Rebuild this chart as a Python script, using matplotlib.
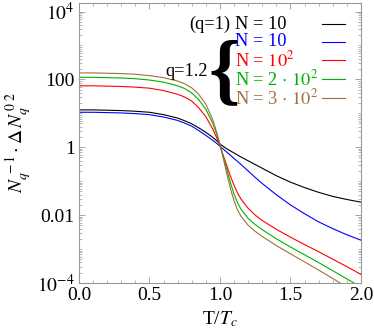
import numpy as np
import matplotlib
matplotlib.use("Agg")
import matplotlib.pyplot as plt
from matplotlib.ticker import FixedLocator, NullFormatter

plt.rcParams['font.family'] = ['Liberation Serif', 'DejaVu Serif']
plt.rcParams['mathtext.fontset'] = 'stix'

# T / Tc sample points
t = [0.0, 0.1, 0.2, 0.3, 0.4, 0.5, 0.6, 0.7, 0.75, 0.8, 0.85, 0.9, 0.95, 0.975, 1.0,
     1.025, 1.05, 1.075, 1.1, 1.125, 1.15, 1.2, 1.25, 1.3, 1.4, 1.5, 1.6, 1.7, 1.8, 1.9, 2.0]

# log10 of the plotted quantity
log_q1_n10 = [1.10, 1.10, 1.09, 1.08, 1.06, 1.03, 0.96, 0.86, 0.78, 0.69, 0.57, 0.44, 0.29, 0.2, 0.1,
              0.02, -0.05, -0.11, -0.17, -0.23, -0.29, -0.4, -0.51, -0.62, -0.84, -1.03, -1.19, -1.33,
              -1.45, -1.54, -1.62]
log_n10 = [1.03, 1.03, 1.02, 1.01, 0.99, 0.96, 0.89, 0.79, 0.71, 0.62, 0.49, 0.35, 0.2, 0.12, 0.03,
           -0.06, -0.15, -0.24, -0.33, -0.42, -0.51, -0.7, -0.89, -1.07, -1.4, -1.7, -1.96, -2.2,
           -2.4, -2.58, -2.74]
log_n100 = [1.81, 1.81, 1.8, 1.79, 1.77, 1.74, 1.67, 1.56, 1.48, 1.36, 1.16, 0.9, 0.53, 0.3, 0.05,
            -0.26, -0.56, -0.86, -1.12, -1.35, -1.53, -1.8, -2.0, -2.16, -2.42, -2.65, -2.87, -3.08,
            -3.3, -3.52, -3.75]
log_n200 = [2.06, 2.06, 2.05, 2.04, 2.02, 1.98, 1.92, 1.81, 1.73, 1.6, 1.4, 1.12, 0.7, 0.41, 0.08,
            -0.3, -0.68, -1.05, -1.38, -1.64, -1.83, -2.1, -2.28, -2.43, -2.7, -2.94, -3.17, -3.4,
            -3.64, -3.88, -4.12]
log_n300 = [2.19, 2.19, 2.18, 2.17, 2.15, 2.11, 2.05, 1.95, 1.87, 1.75, 1.56, 1.27, 0.8, 0.47, 0.1,
            -0.35, -0.8, -1.22, -1.58, -1.85, -2.04, -2.3, -2.48, -2.63, -2.9, -3.14, -3.38, -3.62,
            -3.87, -4.12, -4.38]

series = [log_q1_n10, log_n10, log_n100, log_n200, log_n300]
labels = [r'N = 10', r'N = 10', r'N = $10^2$', r'N = 2 $\cdot$ $10^2$', r'N = 3 $\cdot$ $10^2$']
colors = ['black', '#0000ff', '#ff0000', '#00b000', '#a0703c']

fig = plt.figure(figsize=(3.74, 3.36), dpi=100)
ax = fig.add_axes([0.211, 0.158, 0.754, 0.833])

for vals, c in zip(series, colors):
    ax.plot(t, 10 ** np.array(vals), color=c, lw=0.8)

ax.set_yscale('log')
ax.set_xlim(0, 2)
ax.set_ylim(1e-4, 10 ** 4.25)

ax.yaxis.set_major_locator(FixedLocator([1e-4, 1e-2, 1, 1e2, 1e4]))
ax.set_yticklabels([r'$10^{-4}$', '0.01', '1', '100', r'$10^{4}$'])
minors = [m * 10.0 ** e for e in range(-4, 5) for m in range(2, 10)] + [10.0 ** e for e in (-3, -1, 1, 3)]
ax.yaxis.set_minor_locator(FixedLocator(minors))
ax.yaxis.set_minor_formatter(NullFormatter())
ax.set_xticks([0, 0.5, 1, 1.5, 2])
ax.set_xticklabels(['0.0', '0.5', '1.0', '1.5', '2.0'])
ax.xaxis.set_minor_locator(FixedLocator(np.arange(0, 2.01, 0.1)))

gray = '#999999'
for s in ax.spines.values():
    s.set_color(gray)
    s.set_linewidth(0.8)
ax.tick_params(which='both', direction='in', top=True, right=True, color=gray, labelsize=14, pad=3)
ax.tick_params(which='major', length=4, width=0.6)
ax.tick_params(which='minor', length=2, width=0.5)

ax.set_xlabel(r'T/$T_c$', fontsize=14, labelpad=4)
ax.set_ylabel(r'$N_q^{\,-1}\cdot\Delta\,N_q^{\,0\;2}$', fontsize=14, labelpad=2)

# hand-made legend
rows = [0.925, 0.861, 0.796, 0.727, 0.661]
for y, lab, c in zip(rows, labels, colors):
    ax.text(0.553, y, lab, color=c, fontsize=13.2, ha='left', va='center', transform=ax.transAxes)
    ax.plot([0.862, 0.943], [y, y], color=c, lw=0.8, transform=ax.transAxes)
ax.text(0.536, rows[0], '(q=1)', fontsize=13.2, ha='right', va='center', transform=ax.transAxes)
ax.text(0.458, 0.757, 'q=1.2', fontsize=13.2, ha='right', va='center', transform=ax.transAxes)
ax.text(0.516, 0.745, '{', fontsize=57, ha='center', va='center', fontweight='bold',
        transform=ax.transAxes)

fig.savefig('out.png', dpi=100)
